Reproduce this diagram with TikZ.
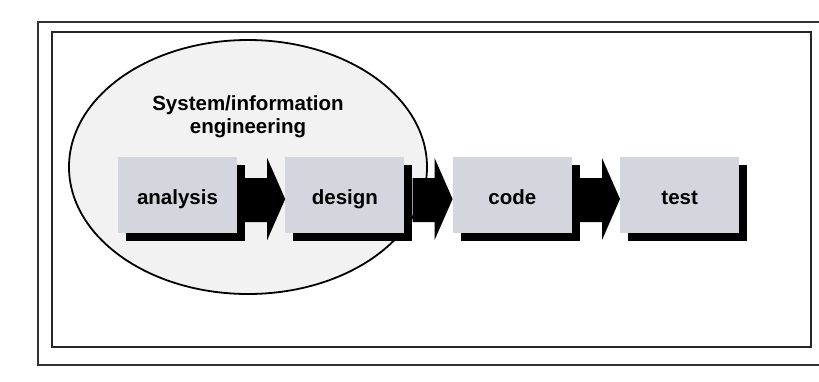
\documentclass[tikz,border=0pt]{standalone}
\usepackage{fontspec}
\setmainfont{Liberation Sans}
\usepackage{tikz}
\usetikzlibrary{calc}
\usetikzlibrary{positioning}
\usetikzlibrary{shadows}
\definecolor{stagegray}{RGB}{212,214,222}
\newcommand{\stagearrow}[2]{ \fill[black] ($(#1.east)+(8,-17)$) -- ($(#2.west)+(-18,-17)$) -- ($(#2.west)+(-18,-37)$) -- ($(#2.west)+(0,4)$) -- ($(#2.west)+(-18,45)$) -- ($(#2.west)+(-18,27)$) -- ($(#1.east)+(8,27)$) -- cycle;}

\begin{document}
\begin{tikzpicture}[x=1pt, y=-1pt,
    stage/.style={rectangle, fill=stagegray, minimum width=119pt, minimum height=76pt, inner sep=0pt, text height=18pt, text depth=0pt, font=\bfseries\fontsize{20.5}{23}\selectfont, drop shadow={shadow xshift=8pt, shadow yshift=-8pt, opacity=1, fill=black}}]
        \useasboundingbox (0,0) rectangle (819,381);
        % frames
        \draw[line width=1.6pt, black!80] (819,22) -- (38,22) -- (38,365) -- (819,365);
        \draw[line width=1.3pt, black!85] (52,32) rectangle (811,347);
        % ellipse
        \draw[line width=1.8pt, fill=black!5] (248,167) ellipse (179 and 127);
        \node[align=center, font=\bfseries\fontsize{20.5}{23}\selectfont] (sie) at (248,117) {System/information\\engineering};
        % stages
        \node[stage] (analysis) at (177.5,195) {analysis};
        \node[stage, right=48pt of analysis] (design) {design};
        \node[stage, right=48pt of design] (code) {code};
        \node[stage, right=48pt of code] (test) {test};
        % arrows
        \stagearrow{analysis}{design}
        \stagearrow{design}{code}
        \stagearrow{code}{test}
\end{tikzpicture}
\end{document}
